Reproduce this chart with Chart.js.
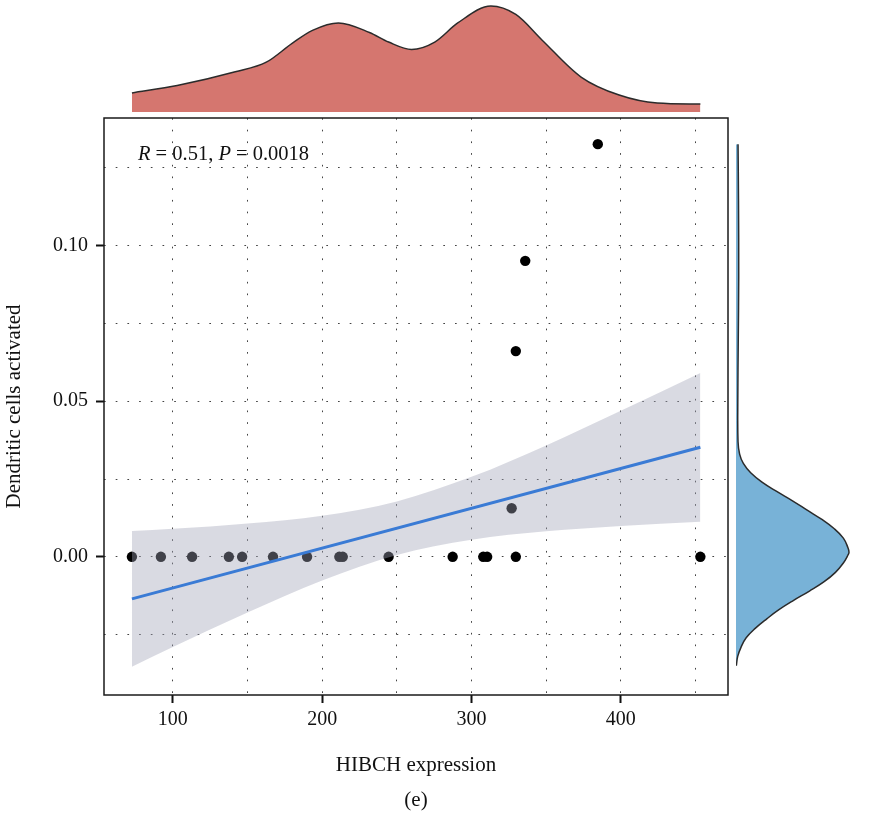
<!DOCTYPE html>
<html lang="en">
<head>
<meta charset="UTF-8">
<title>HIBCH expression vs Dendritic cells activated</title>
<script src="https://cdn.jsdelivr.net/npm/chart.js"></script>
<style>
  html, body { margin: 0; padding: 0; background: #fff; }
  #wrap { position: relative; width: 888px; height: 818px; }
  #wrap canvas { position: absolute; }
</style>
</head>
<body>
<div id="wrap">
  <canvas id="mainChart" width="888" height="818" style="left:0;top:0"></canvas>
  <canvas id="topDens" width="624" height="112" style="left:104px;top:0"></canvas>
  <canvas id="rightDens" width="152" height="577" style="left:736px;top:118px"></canvas>
</div>
<script>
// samples: HIBCH expression vs CIBERSORT "Dendritic cells activated"
const hibch = [72.6, 92.0, 112.9, 137.5, 146.4, 167.1, 189.9, 211.5, 213.8, 244.5,
               287.4, 307.9, 310.5, 329.7, 453.3, 326.9, 329.7, 336.0, 384.6];
const dcAct = [0, 0, 0, 0, 0, 0, 0, 0, 0, 0,
               0, 0, 0, 0, 0, 0.0156, 0.0661, 0.0951, 0.1326];

// linear fit and its 95% band
const fitX = [72.6, 453.3];
const fitY = [-0.0135, 0.0352];
const bandX = [72.6, 100, 150, 200, 250, 300, 350, 400, 453.3];
const bandLow = [-0.0353, -0.0290, -0.0179, -0.0076, 0.0006, 0.0055, 0.0082, 0.0099, 0.0113];
const bandHigh = [0.0083, 0.0090, 0.0107, 0.0132, 0.0178, 0.0257, 0.0358, 0.0469, 0.0591];

// marginal densities (relative, peak = 1)
const densXAt = [72.6, 102.9, 141.8, 162.6, 180.1, 193.5, 210.9, 231.7, 244.5, 259.9,
                 275.4, 290.8, 313.0, 329.7, 347.2, 373.4, 398.9, 424.4, 453.3];
const densX = [0.18, 0.25, 0.38, 0.47, 0.65, 0.77, 0.84, 0.75, 0.66, 0.59,
               0.66, 0.84, 1.00, 0.92, 0.68, 0.33, 0.16, 0.085, 0.075];
const densYAt = [-0.0350, -0.0320, -0.0290, -0.0260, -0.0230, -0.0200, -0.0170, -0.0140, -0.0110, -0.0080,
                 -0.0050, -0.0020, 0.0005, 0.0015, 0.0030, 0.0060, 0.0090, 0.0120, 0.0150, 0.0180,
                 0.0210, 0.0240, 0.0270, 0.0300, 0.0330, 0.0370, 0.0500, 0.0700, 0.0900, 0.1150, 0.1326];
const densY = [0.003, 0.015, 0.045, 0.09, 0.17, 0.27, 0.38, 0.51, 0.65, 0.78,
               0.88, 0.95, 0.99, 1.00, 0.99, 0.95, 0.87, 0.76, 0.63, 0.50,
               0.36, 0.23, 0.13, 0.065, 0.032, 0.018, 0.016, 0.02, 0.024, 0.022, 0.018];

const xTickLabels = [100, 200, 300, 400];
const yTickLabels = [0, 0.05, 0.10];
const xGrid = [100, 150, 200, 250, 300, 350, 400, 450];
const yGrid = [-0.025, 0, 0.025, 0.05, 0.075, 0.10, 0.125];
const corrParts = [['R', true], [' = 0.51, ', false], ['P', true], [' = 0.0018', false]];

const X_MIN = 53.9, X_MAX = 471.8, Y_MIN = -0.0444, Y_MAX = 0.1410;
const SERIF = '"Liberation Serif", "Times New Roman", serif';

const isMajorY = v => yTickLabels.some(t => Math.abs(t - v) < 1e-9);
const pts = (xs, ys) => xs.map((x, i) => ({ x: x, y: ys[i] }));

const frame = {
    id: 'frame',
    afterDraw(chart) {
        const a = chart.chartArea, ctx = chart.ctx;
        ctx.save();
        ctx.strokeStyle = '#1a1a1a';
        ctx.lineWidth = 1.5;
        ctx.strokeRect(a.left, a.top, a.right - a.left, a.bottom - a.top);
        ctx.restore();
    }
};

const corrNote = {
    id: 'corrNote',
    afterDatasetsDraw(chart) {
        const { ctx, scales: { x, y } } = chart;
        let px = x.getPixelForValue(Math.min(...hibch)) + 6;
        const py = y.getPixelForValue(Math.max(...dcAct));
        ctx.save();
        ctx.fillStyle = '#111';
        ctx.textBaseline = 'top';
        corrParts.forEach(([txt, italic]) => {
            ctx.font = (italic ? 'italic ' : '') + '20.5px ' + SERIF;
            ctx.fillText(txt, px, py);
            px += ctx.measureText(txt).width;
        });
        ctx.restore();
    }
};

new Chart(document.getElementById('mainChart'), {
    type: 'scatter',
    data: {
        datasets: [
            {
                data: pts(hibch, dcAct),
                backgroundColor: '#000',
                borderWidth: 0,
                pointRadius: 5.2,
                order: 3
            },
            {
                type: 'line',
                data: pts(bandX, bandLow),
                borderColor: 'transparent',
                pointRadius: 0,
                cubicInterpolationMode: 'monotone',
                fill: false,
                order: 2
            },
            {
                type: 'line',
                data: pts(bandX, bandHigh),
                borderColor: 'transparent',
                backgroundColor: 'rgba(160,163,182,0.4)',
                pointRadius: 0,
                cubicInterpolationMode: 'monotone',
                fill: '-1',
                order: 2
            },
            {
                type: 'line',
                data: pts(fitX, fitY),
                borderColor: '#3a7bd5',
                borderWidth: 3,
                pointRadius: 0,
                fill: false,
                order: 1
            }
        ]
    },
    options: {
        responsive: false,
        animation: false,
        layout: { padding: { left: 0, top: 118, right: 160, bottom: 0 } },
        plugins: { legend: { display: false }, tooltip: { enabled: false } },
        scales: {
            x: {
                type: 'linear',
                min: X_MIN,
                max: X_MAX,
                afterBuildTicks: s => { s.ticks = xGrid.map(v => ({ value: v })); },
                afterFit: s => { s.height = 123; },
                border: { display: false, dash: [1.7, 10] },
                grid: {
                    color: '#444',
                    lineWidth: 1,
                    tickLength: 8,
                    tickWidth: 2,
                    tickColor: c => xTickLabels.includes(c.tick.value) ? '#111' : 'rgba(0,0,0,0)'
                },
                ticks: {
                    autoSkip: false,
                    maxRotation: 0,
                    padding: 5,
                    color: '#111',
                    font: { family: SERIF, size: 20 },
                    callback: v => xTickLabels.includes(v) ? String(v) : ''
                },
                title: {
                    display: true,
                    text: ['HIBCH expression', '(e)'],
                    color: '#111',
                    font: { family: SERIF, size: 21, lineHeight: '35px' },
                    padding: { top: 0, bottom: 0.5 }
                }
            },
            y: {
                type: 'linear',
                min: Y_MIN,
                max: Y_MAX,
                afterBuildTicks: s => { s.ticks = yGrid.map(v => ({ value: v })); },
                afterFit: s => { s.width = 104; },
                border: { display: false, dash: [1.7, 10] },
                grid: {
                    color: '#444',
                    lineWidth: 1,
                    tickLength: 8,
                    tickWidth: 2,
                    tickColor: c => isMajorY(c.tick.value) ? '#111' : 'rgba(0,0,0,0)'
                },
                ticks: {
                    autoSkip: false,
                    padding: 8,
                    color: '#111',
                    font: { family: SERIF, size: 20 },
                    callback: v => isMajorY(v) ? v.toFixed(2) : ''
                },
                title: {
                    display: true,
                    text: 'Dendritic cells activated',
                    color: '#111',
                    font: { family: SERIF, size: 21 },
                    padding: { top: 2, bottom: 0 }
                }
            }
        }
    },
    plugins: [corrNote, frame]
});

// top marginal: density of HIBCH expression
new Chart(document.getElementById('topDens'), {
    type: 'line',
    data: {
        datasets: [{
            data: pts(densXAt, densX),
            borderColor: '#2b2b2b',
            borderWidth: 1.5,
            backgroundColor: '#d5766f',
            fill: 'origin',
            pointRadius: 0,
            cubicInterpolationMode: 'monotone',
            clip: false
        }]
    },
    options: {
        responsive: false,
        animation: false,
        layout: { padding: 0 },
        plugins: { legend: { display: false }, tooltip: { enabled: false } },
        scales: {
            x: { type: 'linear', min: X_MIN, max: X_MAX, display: false },
            y: { type: 'linear', min: 0, max: 1.0566, display: false }
        }
    }
});

// right marginal: density of dendritic cells activated
new Chart(document.getElementById('rightDens'), {
    type: 'line',
    data: {
        datasets: [{
            data: pts(densY, densYAt),
            borderColor: '#2b2b2b',
            borderWidth: 1.5,
            backgroundColor: '#78b2d7',
            fill: 'origin',
            pointRadius: 0,
            tension: 0.4,
            clip: false
        }]
    },
    options: {
        indexAxis: 'y',
        responsive: false,
        animation: false,
        layout: { padding: 0 },
        plugins: { legend: { display: false }, tooltip: { enabled: false } },
        scales: {
            x: { type: 'linear', min: 0, max: 1.345, display: false },
            y: { type: 'linear', min: Y_MIN, max: Y_MAX, display: false }
        }
    }
});
</script>
</body>
</html>
